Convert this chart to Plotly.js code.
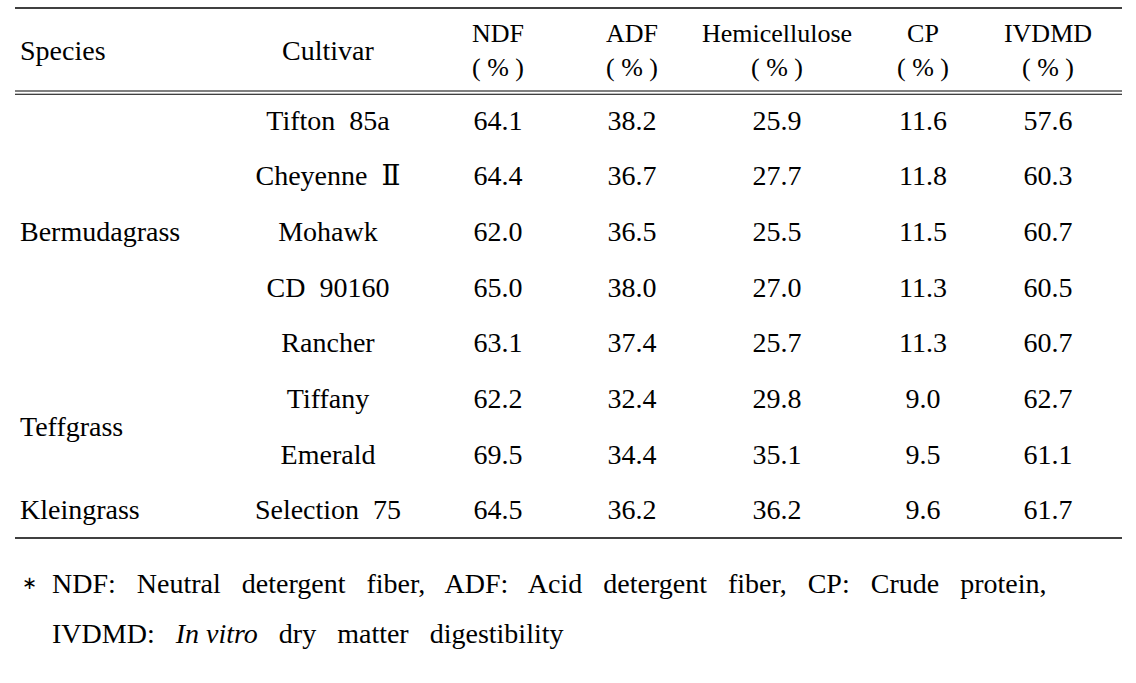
<!DOCTYPE html>
<html>
<head>
<meta charset="utf-8">
<script src="https://cdn.plot.ly/plotly-3.0.1.min.js"></script>
<style>
  html, body { margin: 0; padding: 0; background: #fff; }
  #chart { width: 1136px; height: 683px; }
</style>
</head>
<body>
<div id="chart"></div>
<script>
// ---- data ----
const species = ["Bermudagrass", "Teffgrass", "Kleingrass"];
const speciesFirstRow = [0, 5, 7];
const speciesLastRow = [4, 6, 7];
const cultivars = ["Tifton  85a", "Cheyenne  Ⅱ", "Mohawk", "CD  90160", "Rancher", "Tiffany", "Emerald", "Selection  75"];
const ndf   = [64.1, 64.4, 62.0, 65.0, 63.1, 62.2, 69.5, 64.5];
const adf   = [38.2, 36.7, 36.5, 38.0, 37.4, 32.4, 34.4, 36.2];
const hemi  = [25.9, 27.7, 25.5, 27.0, 25.7, 29.8, 35.1, 36.2];
const cp    = [11.6, 11.8, 11.5, 11.3, 11.3, 9.0, 9.5, 9.6];
const ivdmd = [57.6, 60.3, 60.7, 60.5, 60.7, 62.7, 61.1, 61.7];
const textHeaders = ["Species", "Cultivar"];
const measureHeaders = ["NDF", "ADF", "Hemicellulose", "CP", "IVDMD"];
const unitLabel = "( % )";
const footnoteMark = "∗";
const footnoteLines = [
  "NDF:   Neutral   detergent   fiber,   ADF:   Acid   detergent   fiber,   CP:   Crude   protein,",
  "IVDMD:   <i>In vitro</i>   dry   matter   digestibility"
];

// ---- layout constants ----
const FONT = "Liberation Serif, DejaVu Serif, serif";
const SIZE = 28;
const colX = { species: 20, cultivar: 328, measures: [498, 632, 777, 923, 1048] };
const row0 = 122.5, rowStep = 55.7;
const rowY = i => row0 + i * rowStep;
const headerY = 52.5;
const lineX0 = 15, lineX1 = 1122;

const traces = [];
const baseFont = { family: FONT, size: SIZE, color: "#000" };

// species column
traces.push({
  type: "scatter", mode: "text",
  x: species.map(() => colX.species),
  y: species.map((s, k) => (rowY(speciesFirstRow[k]) + rowY(speciesLastRow[k])) / 2),
  text: species, textposition: "middle right",
  textfont: baseFont, hoverinfo: "skip", showlegend: false
});
// cultivar column
traces.push({
  type: "scatter", mode: "text",
  x: cultivars.map(() => colX.cultivar),
  y: cultivars.map((c, i) => rowY(i)),
  text: cultivars, textposition: "middle center",
  textfont: baseFont, hoverinfo: "skip", showlegend: false
});
// numeric columns
[ndf, adf, hemi, cp, ivdmd].forEach((vals, j) => {
  traces.push({
    type: "scatter", mode: "text",
    x: vals.map(() => colX.measures[j]),
    y: vals.map((v, i) => rowY(i)),
    text: vals.map(v => v.toFixed(1)), textposition: "middle center",
    textfont: baseFont, hoverinfo: "skip", showlegend: false
  });
});
// header: Species / Cultivar
traces.push({
  type: "scatter", mode: "text",
  x: [colX.species, colX.cultivar],
  y: [headerY, headerY],
  text: textHeaders, textposition: ["middle right", "middle center"],
  textfont: baseFont, hoverinfo: "skip", showlegend: false
});
// header: measures
traces.push({
  type: "scatter", mode: "text",
  x: colX.measures,
  y: measureHeaders.map(() => headerY),
  text: measureHeaders.map(h => h + "<br>" + unitLabel), textposition: "middle center",
  textfont: { family: FONT, size: 26, color: "#000" }, hoverinfo: "skip", showlegend: false
});

const shapes = [
  { type: "line", xref: "x", yref: "y", x0: lineX0, x1: lineX1, y0: 8, y1: 8, line: { color: "#000", width: 1.6 } },
  { type: "line", xref: "x", yref: "y", x0: lineX0, x1: lineX1, y0: 91, y1: 91, line: { color: "#000", width: 1.1 } },
  { type: "line", xref: "x", yref: "y", x0: lineX0, x1: lineX1, y0: 94.2, y1: 94.2, line: { color: "#000", width: 1.1 } },
  { type: "line", xref: "x", yref: "y", x0: lineX0, x1: lineX1, y0: 538, y1: 538, line: { color: "#000", width: 1.6 } }
];

const annotations = [
  { xref: "x", yref: "y", x: 29, y: 582, xanchor: "center", yanchor: "middle", showarrow: false,
    text: footnoteMark, font: { family: "DejaVu Sans", size: 18, color: "#000" } },
  { xref: "x", yref: "y", x: 50, y: 583, xanchor: "left", yanchor: "middle", showarrow: false,
    text: footnoteLines[0], font: { family: FONT, size: 28, color: "#000" } },
  { xref: "x", yref: "y", x: 50, y: 633, xanchor: "left", yanchor: "middle", showarrow: false,
    text: footnoteLines[1], font: { family: FONT, size: 28, color: "#000" } }
];

const layout = {
  width: 1136, height: 683,
  margin: { l: 0, r: 0, t: 0, b: 0 },
  paper_bgcolor: "#fff", plot_bgcolor: "#fff",
  xaxis: { range: [0, 1136], visible: false, fixedrange: true },
  yaxis: { range: [683, 0], visible: false, fixedrange: true },
  shapes: shapes, annotations: annotations,
  showlegend: false
};

Plotly.newPlot("chart", traces, layout, { staticPlot: true, displayModeBar: false });
</script>
</body>
</html>
